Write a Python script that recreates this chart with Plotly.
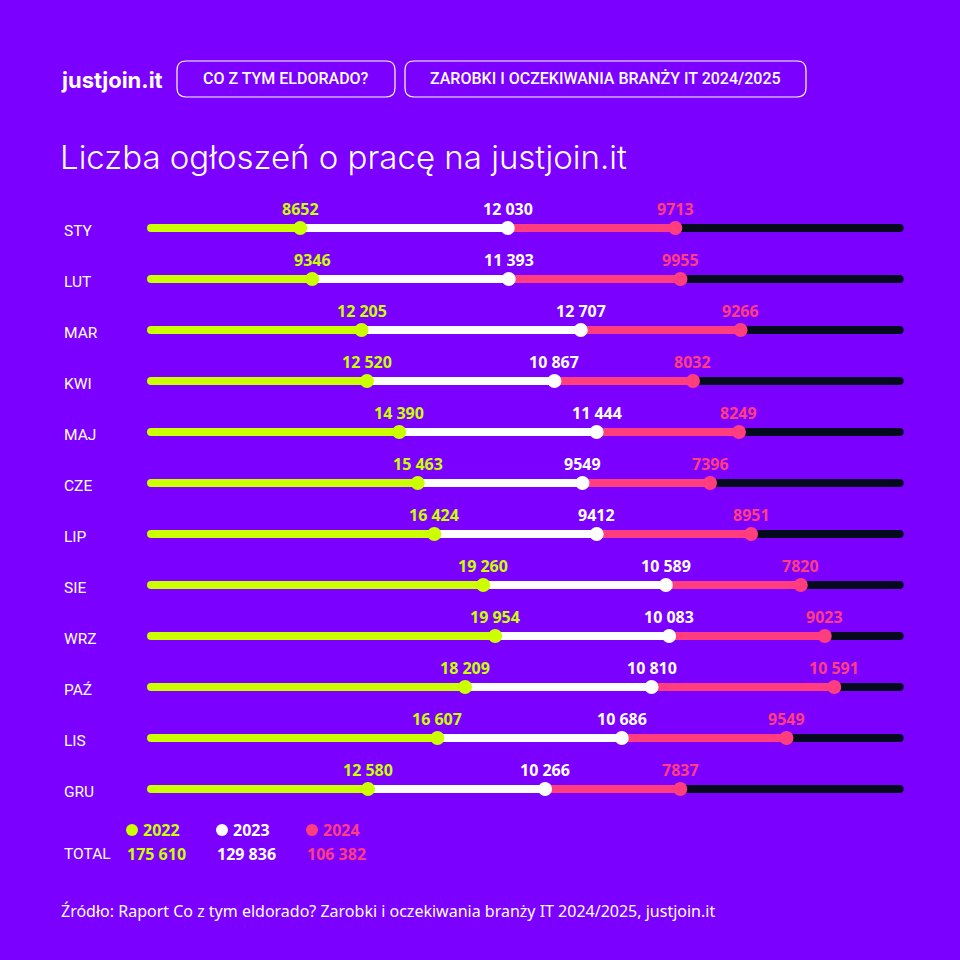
import plotly.graph_objects as go

months = ["STY", "LUT", "MAR", "KWI", "MAJ", "CZE", "LIP", "SIE", "WRZ", "PAŹ", "LIS", "GRU"]
v2022 = [8652, 9346, 12205, 12520, 14390, 15463, 16424, 19260, 19954, 18209, 16607, 12580]
v2023 = [12030, 11393, 12707, 10867, 11444, 9549, 9412, 10589, 10083, 10810, 10686, 10266]
v2024 = [9713, 9955, 9266, 8032, 8249, 7396, 8951, 7820, 9023, 10591, 9549, 7837]
years = ["2022", "2023", "2024"]
TRACK_MAX = 43400

BG = "#7B00FF"
GREEN = "#CCFF00"
WHITE = "#FFFFFF"
PINK = "#FF3D7F"
BLACK = "#050A1E"

W = H = 960
def px(x):
    return x / W
def py(y):
    return 1 - y / H

def fmt(v):
    return f"{v:,}".replace(",", " ") if v >= 10000 else str(v)

n = len(months)
rows = list(range(n))
c1 = v2022
c2 = [a + b for a, b in zip(v2022, v2023)]
c3 = [a + b for a, b in zip(c2, v2024)]

def segs(starts, ends):
    xs, ys = [], []
    for r, s, e in zip(rows, starts, ends):
        xs += [s, e, None]
        ys += [r, r, None]
    return xs, ys

fig = go.Figure()
LW = 8
for starts, ends, col in [(c3, [TRACK_MAX] * n, BLACK), (c2, c3, PINK), (c1, c2, WHITE), ([0] * n, c1, GREEN)]:
    xs, ys = segs(starts, ends)
    fig.add_trace(go.Scatter(x=xs, y=ys, mode="lines", line=dict(color=col, width=LW),
                             hoverinfo="skip", showlegend=False))
# round caps
fig.add_trace(go.Scatter(x=[0] * n, y=rows, mode="markers", marker=dict(color=GREEN, size=LW, line=dict(width=0)),
                         cliponaxis=False, hoverinfo="skip", showlegend=False))
fig.add_trace(go.Scatter(x=[TRACK_MAX] * n, y=rows, mode="markers", marker=dict(color=BLACK, size=LW, line=dict(width=0)),
                         cliponaxis=False, hoverinfo="skip", showlegend=False))
# dots
for xs, col in [(c1, GREEN), (c2, WHITE), (c3, PINK)]:
    fig.add_trace(go.Scatter(x=xs, y=rows, mode="markers",
                             marker=dict(color=col, size=14, line=dict(width=0)),
                             cliponaxis=False, hoverinfo="skip", showlegend=False))

ann = []
NUMFONT = "Noto Sans"
# value labels
for vals, pos, col in [(v2022, c1, GREEN), (v2023, c2, WHITE), (v2024, c3, PINK)]:
    for r, v, x in zip(rows, vals, pos):
        ann.append(dict(x=x, y=r, xref="x", yref="y", text=fmt(v), showarrow=False,
                        yshift=19, font=dict(family=NUMFONT, size=16, color=col, weight="bold")))
# month labels
for r, m in zip(rows, months):
    ann.append(dict(x=px(62), y=r, xref="paper", yref="y", text=m, xanchor="left", showarrow=False,
                    yshift=-3, font=dict(family="Roboto", size=15.5, color=WHITE)))

# header
ann.append(dict(x=px(59), y=py(80), xref="paper", yref="paper", text="<b>justjoin.it</b>", xanchor="left",
                yanchor="middle", showarrow=False, font=dict(family="Inter", size=22, color=WHITE)))
pills = [("CO Z TYM ELDORADO?", 177, 395), ("ZAROBKI I OCZEKIWANIA BRANŻY IT 2024/2025", 405, 806)]
shapes = []
rr = 9
for text, x0, x1 in pills:
    y0, y1 = 61, 97
    path = (f"M {px(x0+rr)} {py(y0)} L {px(x1-rr)} {py(y0)} Q {px(x1)} {py(y0)} {px(x1)} {py(y0+rr)} "
            f"L {px(x1)} {py(y1-rr)} Q {px(x1)} {py(y1)} {px(x1-rr)} {py(y1)} "
            f"L {px(x0+rr)} {py(y1)} Q {px(x0)} {py(y1)} {px(x0)} {py(y1-rr)} "
            f"L {px(x0)} {py(y0+rr)} Q {px(x0)} {py(y0)} {px(x0+rr)} {py(y0)} Z")
    shapes.append(dict(type="path", xref="paper", yref="paper", path=path,
                       line=dict(color=WHITE, width=1.2), fillcolor="rgba(0,0,0,0)"))
    ann.append(dict(x=px((x0 + x1) / 2), y=py(79), xref="paper", yref="paper", text=text,
                    showarrow=False, xanchor="center", yanchor="middle",
                    font=dict(family="Roboto", size=16, color=WHITE, weight=500)))

ann.append(dict(x=px(58), y=py(157), xref="paper", yref="paper", text="Liczba ogłoszeń o pracę na justjoin.it",
                xanchor="left", yanchor="middle", showarrow=False,
                font=dict(family="Inter", size=33, color=WHITE, weight=300)))

# legend & totals
totals = [sum(v2022), sum(v2023), sum(v2024)]
for (yr, tot, col, lx) in zip(years, totals, [GREEN, WHITE, PINK], [125, 215, 305]):
    shapes.append(dict(type="circle", xref="paper", yref="paper",
                       x0=px(lx + 1), x1=px(lx + 13), y0=py(836), y1=py(824),
                       fillcolor=col, line=dict(width=0)))
    ann.append(dict(x=px(lx + 16), y=py(830), xref="paper", yref="paper", text=yr, xanchor="left",
                    yanchor="middle", showarrow=False,
                    font=dict(family=NUMFONT, size=16, color=col, weight="bold")))
    ann.append(dict(x=px(lx), y=py(854), xref="paper", yref="paper", text=fmt(tot), xanchor="left",
                    yanchor="middle", showarrow=False,
                    font=dict(family=NUMFONT, size=16, color=col, weight="bold")))
ann.append(dict(x=px(62), y=py(854), xref="paper", yref="paper", text="TOTAL", xanchor="left",
                yanchor="middle", showarrow=False, font=dict(family="Roboto", size=15.5, color=WHITE)))

ann.append(dict(x=px(59), y=py(911), xref="paper", yref="paper",
                text="Źródło: Raport Co z tym eldorado? Zarobki i oczekiwania branży IT 2024/2025, justjoin.it",
                xanchor="left", yanchor="middle", showarrow=False,
                font=dict(family="Noto Sans", size=16, color=WHITE)))

K = 0.01725
X0 = 151
xr = [-1500, 45000]
fig.update_layout(
    width=W, height=H, paper_bgcolor=BG, plot_bgcolor=BG,
    margin=dict(l=0, r=0, t=0, b=0),
    xaxis=dict(range=xr, domain=[px(X0 + xr[0] * K), px(X0 + xr[1] * K)], visible=False, fixedrange=True),
    yaxis=dict(range=[n - 0.5, -0.5], domain=[py(789 + 25.5), py(228 - 25.5)], visible=False, fixedrange=True),
    annotations=ann, shapes=shapes, showlegend=False,
)
fig.write_html("out.html", config={"displayModeBar": False},
               post_script="document.body.style.margin='0';document.body.style.background='#7B00FF';")
